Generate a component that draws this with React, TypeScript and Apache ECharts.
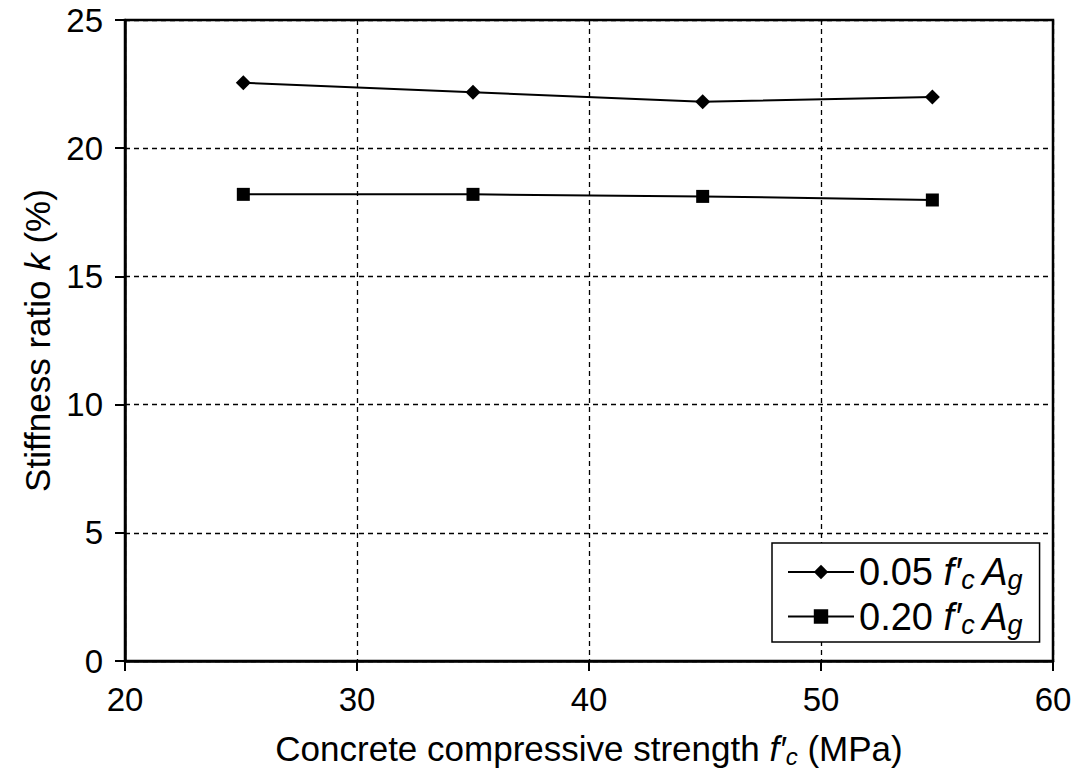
import React, { useEffect, useRef } from "react";
import * as echarts from "echarts";

const xLow = [25.1, 35.0, 44.9, 54.8];
const kLow = [22.55, 22.18, 21.81, 22.0];
const xHigh = [25.1, 35.0, 44.9, 54.8];
const kHigh = [18.2, 18.2, 18.12, 17.98];
const seriesNames = ["0.05 f'cAg", "0.20 f'cAg"];

const FONT = "'Liberation Sans', Arial, sans-serif";

export default function App() {
  const ref = useRef<HTMLDivElement>(null);
  useEffect(() => {
    if (!ref.current) return;
    const chart = echarts.init(ref.current, undefined, { renderer: "svg" });
    const titleRich = {
      n: { fontSize: 35, fontFamily: FONT, color: "#000", lineHeight: 40 },
      i: { fontSize: 35, fontFamily: FONT, fontStyle: "italic", color: "#000", lineHeight: 40 },
      s: { fontSize: 24, fontFamily: FONT, fontStyle: "italic", color: "#000", lineHeight: 24, verticalAlign: "bottom" },
    };
    const legendRich = {
      n: { fontSize: 38, fontFamily: FONT, color: "#000", lineHeight: 43 },
      i: { fontSize: 38, fontFamily: FONT, fontStyle: "italic", color: "#000", lineHeight: 43 },
      s: { fontSize: 27, fontFamily: FONT, fontStyle: "italic", color: "#000", lineHeight: 27, verticalAlign: "bottom" },
    };
    chart.setOption({
      animation: false,
      backgroundColor: "#fff",
      grid: {
        left: 125,
        right: 31,
        top: 20,
        bottom: 120,
        show: true,
        borderColor: "#000",
        borderWidth: 2.5,
        backgroundColor: "transparent",
      },
      xAxis: {
        type: "value",
        min: 20,
        max: 60,
        interval: 10,
        name: "{n|Concrete compressive strength }{i|f′}{s|c}{n| (MPa)}",
        nameLocation: "middle",
        nameGap: 67,
        nameTextStyle: { rich: titleRich },
        axisLine: { show: true, lineStyle: { color: "#000", width: 2.5 } },
        axisTick: { show: true, length: 10, inside: false, lineStyle: { color: "#000", width: 2 } },
        axisLabel: { color: "#000", fontSize: 33, fontFamily: FONT, margin: 22 },
        splitLine: { show: true, lineStyle: { color: "#000", type: [5, 4], width: 1.3 } },
      },
      yAxis: {
        type: "value",
        min: 0,
        max: 25,
        interval: 5,
        name: "{n|Stiffness ratio }{i|k}{n| (%)}",
        nameLocation: "middle",
        nameRotate: 90,
        nameGap: 68,
        nameTextStyle: { rich: titleRich },
        axisLine: { show: true, lineStyle: { color: "#000", width: 2.5 } },
        axisTick: { show: true, length: 10, inside: false, lineStyle: { color: "#000", width: 2 } },
        axisLabel: { color: "#000", fontSize: 33, fontFamily: FONT, margin: 22 },
        splitLine: { show: true, lineStyle: { color: "#000", type: [5, 4], width: 1.3 } },
      },
      legend: {
        orient: "vertical",
        left: 772,
        top: 543,
        data: seriesNames,
        borderColor: "#000",
        borderWidth: 1.5,
        borderRadius: 0,
        padding: [10, 17, 4, 15],
        itemWidth: 66,
        itemHeight: 18,
        itemGap: 4,
        backgroundColor: "#fff",
        formatter: (name: string) =>
          name === seriesNames[0]
            ? "{n|0.05 }{i|f′}{s|c }{i|A}{s|g}"
            : "{n|0.20 }{i|f′}{s|c }{i|A}{s|g}",
        textStyle: { rich: legendRich, color: "#000" },
      },
      series: [
        {
          name: seriesNames[0],
          type: "line",
          data: xLow.map((x, i) => [x, kLow[i]]),
          symbol: "diamond",
          symbolSize: 15,
          itemStyle: { color: "#000" },
          lineStyle: { color: "#000", width: 2 },
          z: 5,
        },
        {
          name: seriesNames[1],
          type: "line",
          data: xHigh.map((x, i) => [x, kHigh[i]]),
          symbol: "rect",
          symbolSize: 13,
          itemStyle: { color: "#000" },
          lineStyle: { color: "#000", width: 2 },
          z: 5,
        },
      ],
    });
    return () => chart.dispose();
  }, []);
  return (
    <div
      ref={ref}
      style={{ position: "fixed", left: 0, top: 0, width: 1084, height: 781, background: "#fff" }}
    />
  );
}
